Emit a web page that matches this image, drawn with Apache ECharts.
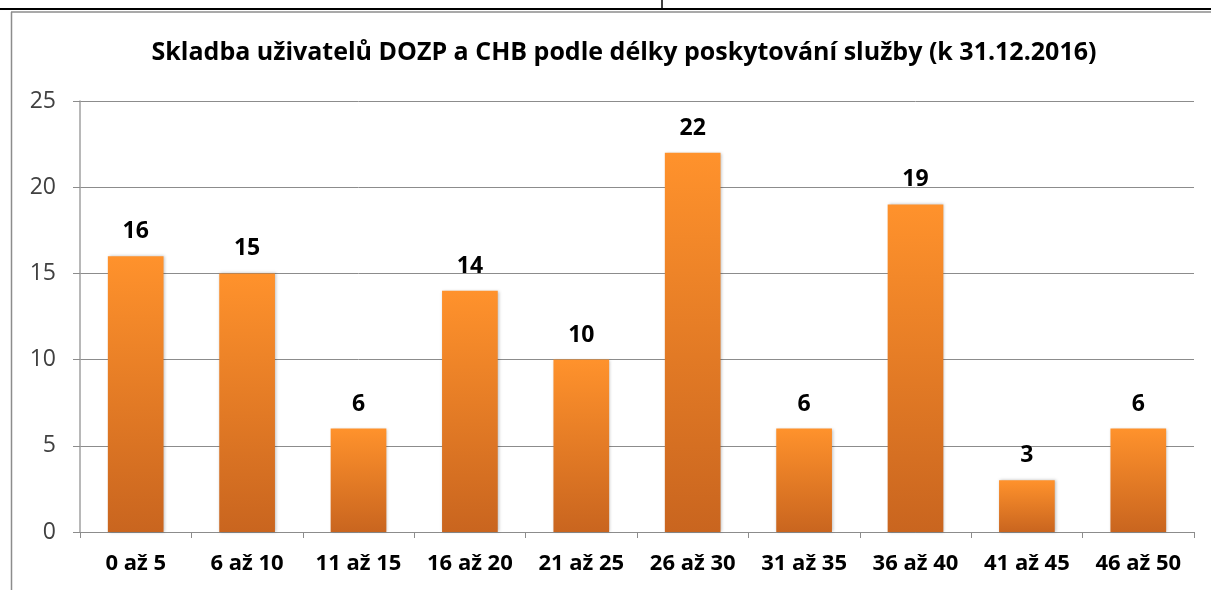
<!DOCTYPE html>
<html>
<head>
<meta charset="utf-8">
<script src="https://cdn.jsdelivr.net/npm/echarts@6/dist/echarts.min.js"></script>
<style>
  html, body { margin: 0; padding: 0; background: #fff; }
  #chart { width: 1211px; height: 590px; }
</style>
</head>
<body>
<div id="chart"></div>
<script>
// data
const categories = ['0 až 5', '6 až 10', '11 až 15', '16 až 20', '21 až 25', '26 až 30', '31 až 35', '36 až 40', '41 až 45', '46 až 50'];
const users = [16, 15, 6, 14, 10, 22, 6, 19, 3, 6];
const yTicks = [0, 5, 10, 15, 20, 25];

const font = '"Open Sans", "Noto Sans", sans-serif';
let chart = echarts.init(document.getElementById('chart'));

let option = {
  animation: false,
  title: {
    text: 'Skladba uživatelů DOZP a CHB podle délky poskytování služby (k 31.12.2016)',
    left: 619,
    textAlign: 'center',
    top: 35,
    textStyle: { fontFamily: font, fontSize: 25, fontWeight: 'bold', color: '#000' }
  },
  grid: { left: 80, right: 17, top: 101, bottom: 58 },
  xAxis: {
    type: 'category',
    data: categories,
    axisLine: { lineStyle: { color: '#8c8c8c', width: 1 } },
    axisTick: { show: true, length: 6, lineStyle: { color: '#8c8c8c' } },
    axisLabel: { interval: 0, fontFamily: font, fontSize: 22, fontWeight: 'bold', color: '#000', margin: 21 }
  },
  yAxis: {
    type: 'value',
    min: yTicks[0],
    max: yTicks[yTicks.length - 1],
    interval: 5,
    axisLine: { show: true, lineStyle: { color: '#a0a0a0', width: 1.5 } },
    axisTick: { show: true, length: 7, lineStyle: { color: '#8c8c8c' } },
    axisLabel: { fontFamily: font, fontSize: 23, color: '#404040', margin: 24 },
    splitLine: { lineStyle: { color: '#8c8c8c' } }
  },
  series: [{
    type: 'bar',
    data: users,
    barWidth: '50%',
    itemStyle: {
      color: new echarts.graphic.LinearGradient(0, 0, 0, 1, [
        { offset: 0, color: '#ff922c' },
        { offset: 1, color: '#c9651f' }
      ]),
      shadowColor: 'rgba(0,0,0,0.25)',
      shadowBlur: 3,
      shadowOffsetX: 1
    },
    label: {
      show: true,
      position: 'top',
      distance: 13,
      fontFamily: font,
      fontSize: 23,
      fontWeight: 'bold',
      color: '#000'
    }
  }],
  graphic: [
    // table border above the chart
    { type: 'line', shape: { x1: 0, y1: 9, x2: 1211, y2: 9 }, style: { stroke: '#000', lineWidth: 2 } },
    { type: 'line', shape: { x1: 662, y1: 0, x2: 662, y2: 9 }, style: { stroke: '#000', lineWidth: 1.5 } },
    // chart frame
    { type: 'line', shape: { x1: 11, y1: 12, x2: 1211, y2: 12 }, style: { stroke: '#8c8c8c', lineWidth: 1.5 } },
    { type: 'line', shape: { x1: 11.5, y1: 12, x2: 11.5, y2: 590 }, style: { stroke: '#8c8c8c', lineWidth: 1.5 } }
  ]
};
chart.setOption(option);
</script>
</body>
</html>
